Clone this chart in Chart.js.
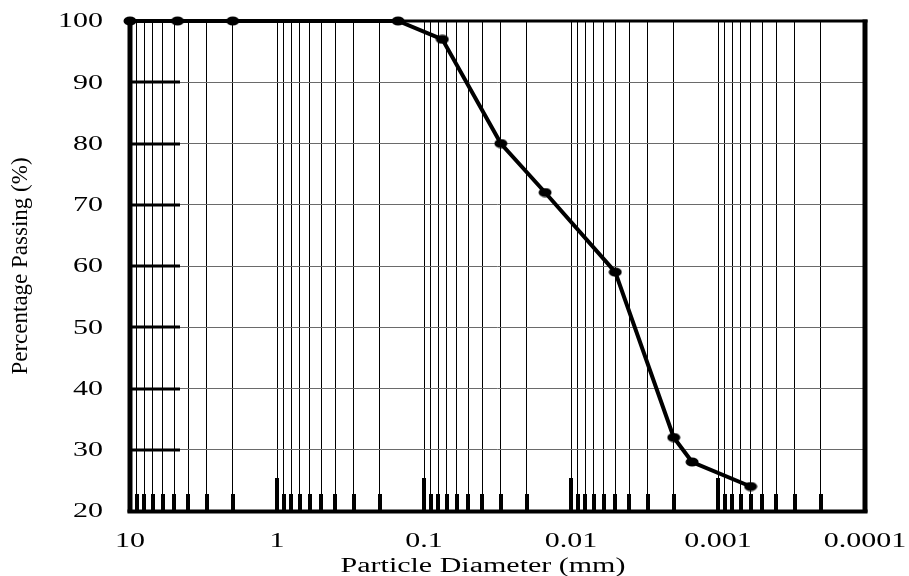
<!DOCTYPE html>
<html>
<head>
<meta charset="utf-8">
<script src="https://cdn.jsdelivr.net/npm/chart.js@4.4.1/dist/chart.umd.min.js"></script>
<style>
  body { margin: 0; background: #fff; }
  canvas { display: block; }
</style>
</head>
<body>
<canvas id="gradChart" width="909" height="576"></canvas>
<script>
// grain size data (mm) and percent passing
const diameters = [10, 4.75, 2, 0.15, 0.075, 0.03, 0.015, 0.005, 0.002, 0.0015, 0.0006];
const passing   = [100, 100, 100, 100, 97, 80, 72, 59, 32, 28, 24];

// axis labels
const xDecades    = [10, 1, 0.1, 0.01, 0.001, 0.0001];
const xTickLabels = ['10', '1', '0.1', '0.01', '0.001', '0.0001'];
const minorSteps  = [2, 3, 4, 5, 6, 7, 8, 9];
const yTicks      = [20, 30, 40, 50, 60, 70, 80, 90, 100];

const STRETCH = 1.5;            // labels in the original are stretched sideways
const SERIF = "'Liberation Serif', 'Times New Roman', serif";

// all grid positions on the log axis: decades plus 2..9 between them
function gridValues() {
    const vals = [];
    xDecades.forEach(d => {
        vals.push(d);
        if (d < 10) minorSteps.forEach(m => vals.push(+(d * m).toPrecision(3)));
    });
    return vals.sort((a, b) => a - b);
}

// oval marker like in the picture
function makeMarker() {
    const c = document.createElement('canvas');
    c.width = 14; c.height = 10;
    const g = c.getContext('2d');
    g.fillStyle = '#000';
    g.beginPath();
    g.ellipse(7, 5, 6.5, 4.5, 0, 0, Math.PI * 2);
    g.fill();
    return c;
}

function wideText(ctx, text, x, y, align, baseline) {
    ctx.save();
    ctx.translate(x, y);
    ctx.scale(STRETCH, 1);
    ctx.textAlign = align;
    ctx.textBaseline = baseline;
    ctx.fillText(text, 0, 0);
    ctx.restore();
}

// frame, inner tick marks and stretched labels
const framePlugin = {
    id: 'frame',
    beforeDatasetsDraw(chart) {
        const { ctx, chartArea: a, scales: { x, y } } = chart;
        ctx.save();
        ctx.fillStyle = '#000';

        // short thick ticks along the bottom
        gridValues().forEach(v => {
            if (v >= 10 || v <= 0.0001) return;
            const px = Math.round(x.getPixelForValue(v));
            const isDecade = xDecades.includes(v);
            const h = isDecade ? 33 : 17;
            ctx.fillRect(px - 2, a.bottom - h, 4, h);
        });

        // long ticks on the left
        yTicks.forEach(v => {
            if (v === 20 || v === 100) return;
            const py = Math.round(y.getPixelForValue(v));
            ctx.fillRect(a.left, py - 1.5, 50, 3);
        });

        // heavy frame
        ctx.fillRect(a.left - 2.5, a.top - 1.5, a.right - a.left + 5, 3);
        ctx.fillRect(a.left - 2.5, a.bottom - 1.5, a.right - a.left + 5, 4);
        ctx.fillRect(a.left - 2.5, a.top - 1.5, 5, a.bottom - a.top + 3);
        ctx.fillRect(a.right - 2.5, a.top - 1.5, 5, a.bottom - a.top + 3);
        ctx.restore();
    },
    afterDraw(chart) {
        const { ctx, scales: { x, y } } = chart;
        ctx.save();
        ctx.fillStyle = '#000';
        ctx.font = '20px ' + SERIF;
        yTicks.forEach(v => {
            wideText(ctx, String(v), 103, y.getPixelForValue(v) + 1, 'right', 'middle');
        });
        xDecades.forEach((v, i) => {
            wideText(ctx, xTickLabels[i], x.getPixelForValue(v), 542, 'center', 'middle');
        });
        wideText(ctx, 'Particle Diameter (mm)', 483, 572, 'center', 'alphabetic');
        ctx.restore();
    }
};

new Chart(document.getElementById('gradChart'), {
    type: 'line',
    data: {
        datasets: [{
            data: diameters.map((d, i) => ({ x: d, y: passing[i] })),
            borderColor: '#000',
            borderWidth: 4,
            tension: 0,
            pointStyle: makeMarker(),
            pointRadius: 5,
            clip: false
        }]
    },
    options: {
        responsive: false,
        animation: false,
        events: [],
        layout: { padding: { left: 5, right: 44, top: 21, bottom: 65 } },
        plugins: { legend: { display: false }, tooltip: { enabled: false } },
        scales: {
            x: {
                type: 'logarithmic',
                reverse: true,
                min: 0.0001,
                max: 10,
                afterBuildTicks: scale => {
                    scale.ticks = gridValues().map(v => ({ value: v }));
                },
                ticks: { display: false, autoSkip: false },
                grid: { color: '#000', lineWidth: 1, drawTicks: false },
                border: { display: false }
            },
            y: {
                min: 20,
                max: 100,
                ticks: { display: false, stepSize: 10 },
                grid: { color: '#6a6a6a', lineWidth: 1, drawTicks: false },
                border: { display: false },
                title: {
                    display: true,
                    text: 'Percentage Passing (%)',
                    color: '#000',
                    font: { family: SERIF, size: 23, lineHeight: 1 },
                    padding: { top: 4, bottom: 98 }
                }
            }
        }
    },
    plugins: [framePlugin]
});
</script>
</body>
</html>
